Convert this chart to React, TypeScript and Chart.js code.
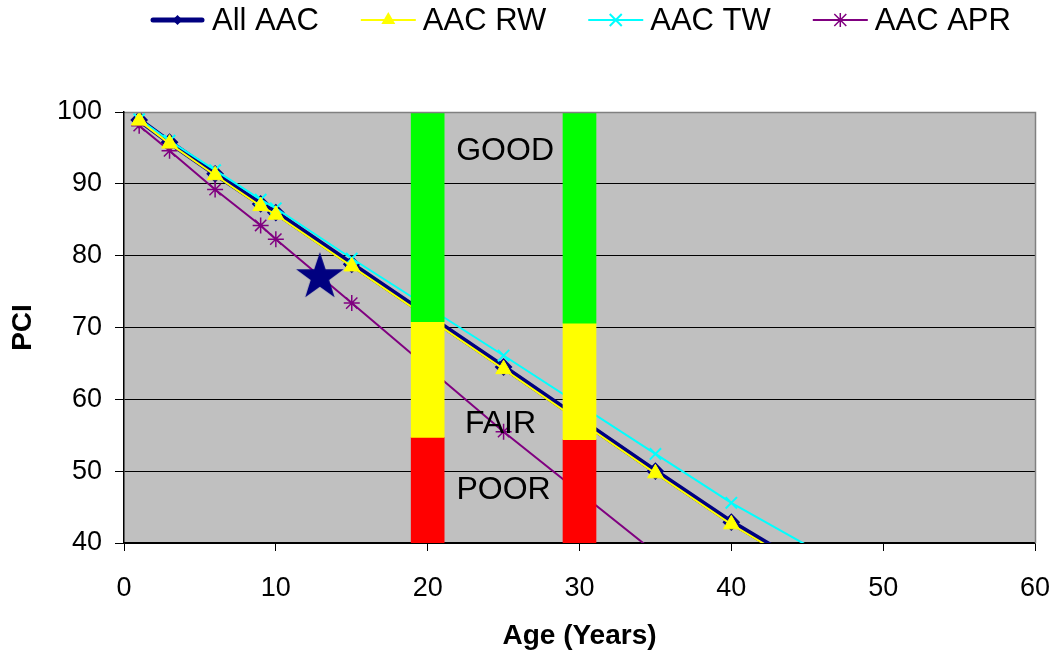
import React, { useEffect, useRef } from 'react';
import { Chart, registerables } from 'chart.js';

Chart.register(...registerables);

// ---- Data ----
const ages = [1, 3, 6, 9, 10, 15, 25, 35, 40, 45];
const allAAC = [98.9, 95.8, 91.4, 87.2, 86.0, 78.8, 64.5, 50.0, 42.9, 36.6];
const aacRW = [98.8, 95.6, 91.2, 86.9, 85.7, 78.5, 64.2, 49.7, 42.6, 36.3];
const twAges = [1, 3, 6, 9, 10, 15, 25, 35, 40, 50];
const aacTW = [99.0, 96.0, 91.9, 87.8, 86.6, 79.6, 66.1, 52.4, 45.6, 33.7];
const aprAges = [1, 3, 6, 9, 10, 15, 25, 40];
const aacAPR = [98.1, 94.6, 89.2, 84.2, 82.3, 73.4, 55.5, 30.2];
const starAge = [12.9];
const starPCI = [77.3];
const bandAges = [20, 30];
const goodBand = [[70.8, 100], [70.6, 100]];
const fairBand = [[54.7, 70.8], [54.4, 70.6]];
const poorBand = [[40, 54.7], [40, 54.4]];
const bandLabels = ['GOOD', 'FAIR', 'POOR'];
const bandLabelAge = [25.1, 24.8, 25.0];
const bandLabelPCI = [94.5, 56.5, 47.4];
const seriesNames = ['All AAC', 'AAC RW', 'AAC TW', 'AAC APR'];
const xMin = 0, xMax = 60, xStep = 10;
const yMin = 40, yMax = 100, yStep = 10;
const xTitle = 'Age (Years)';
const yTitle = 'PCI';

const FONT = '"Liberation Sans", Arial, Helvetica, sans-serif';
const NAVY = '#000080';
const YELLOW = '#FFFF00';
const CYAN = '#00FFFF';
const PURPLE = '#800080';

function makeStar(size: number, color: string) {
  const c = document.createElement('canvas');
  c.width = size; c.height = size;
  const g = c.getContext('2d')!;
  const cx = size / 2, cy = size / 2 + size * 0.04;
  const R = size / 2 - 1, r = R * 0.39;
  g.beginPath();
  for (let i = 0; i < 10; i++) {
    const rad = i % 2 === 0 ? R : r;
    const a = -Math.PI / 2 + (i * Math.PI) / 5;
    const px = cx + rad * Math.cos(a), py = cy + rad * Math.sin(a);
    if (i === 0) g.moveTo(px, py); else g.lineTo(px, py);
  }
  g.closePath();
  g.fillStyle = color;
  g.fill();
  return c;
}

function drawMarker(ctx: CanvasRenderingContext2D, kind: string, x: number, y: number, color: string) {
  ctx.save();
  ctx.fillStyle = color;
  ctx.strokeStyle = color;
  if (kind === 'diamond') {
    const s = 5;
    ctx.beginPath();
    ctx.moveTo(x, y - s); ctx.lineTo(x + s, y); ctx.lineTo(x, y + s); ctx.lineTo(x - s, y);
    ctx.closePath(); ctx.fill();
  } else if (kind === 'triangle') {
    const s = 8;
    ctx.beginPath();
    ctx.moveTo(x, y - s); ctx.lineTo(x + s * 0.87, y + s * 0.5); ctx.lineTo(x - s * 0.87, y + s * 0.5);
    ctx.closePath(); ctx.fill();
  } else if (kind === 'x') {
    const s = 6; ctx.lineWidth = 2;
    ctx.beginPath();
    ctx.moveTo(x - s, y - s); ctx.lineTo(x + s, y + s);
    ctx.moveTo(x + s, y - s); ctx.lineTo(x - s, y + s);
    ctx.stroke();
  } else if (kind === 'asterisk') {
    const s = 6; ctx.lineWidth = 1.5;
    ctx.beginPath();
    ctx.moveTo(x - s, y - s); ctx.lineTo(x + s, y + s);
    ctx.moveTo(x + s, y - s); ctx.lineTo(x - s, y + s);
    ctx.moveTo(x, y - s - 1); ctx.lineTo(x, y + s + 1);
    ctx.stroke();
  }
  ctx.restore();
}

const legendStyle = [
  { color: NAVY, width: 5, marker: 'diamond' },
  { color: YELLOW, width: 2, marker: 'triangle' },
  { color: CYAN, width: 2, marker: 'x' },
  { color: PURPLE, width: 2, marker: 'asterisk' },
];

const decorPlugin = {
  id: 'decor',
  beforeDraw(chart: any) {
    const { ctx, chartArea } = chart;
    const { left, top, right, bottom } = chartArea;
    ctx.save();
    ctx.fillStyle = '#C0C0C0';
    ctx.fillRect(left, top, right - left, bottom - top);
    ctx.restore();
  },
  afterDatasetsDraw(chart: any) {
    const { ctx, scales } = chart;
    ctx.save();
    ctx.font = `32px ${FONT}`;
    ctx.fillStyle = '#000';
    ctx.textAlign = 'center';
    ctx.textBaseline = 'middle';
    bandLabels.forEach((t, i) => {
      ctx.fillText(t, scales.x.getPixelForValue(bandLabelAge[i]), scales.y.getPixelForValue(bandLabelPCI[i]));
    });
    ctx.restore();
  },
  afterDraw(chart: any) {
    const { ctx, chartArea } = chart;
    const { left, top, right, bottom } = chartArea;
    ctx.save();
    ctx.strokeStyle = '#808080';
    ctx.lineWidth = 1.5;
    ctx.beginPath();
    ctx.moveTo(left + 1, Math.round(top) + 0.5);
    ctx.lineTo(Math.round(right) + 0.5, Math.round(top) + 0.5);
    ctx.lineTo(Math.round(right) + 0.5, bottom);
    ctx.stroke();
    // legend
    ctx.font = `31px ${FONT}`;
    ctx.textAlign = 'left';
    ctx.textBaseline = 'middle';
    const ly = 20;
    let x = 150;
    seriesNames.forEach((name, i) => {
      const st = legendStyle[i];
      ctx.strokeStyle = st.color;
      ctx.lineWidth = st.width;
      ctx.lineCap = i === 0 ? 'round' : 'butt';
      ctx.beginPath();
      ctx.moveTo(x + (i === 0 ? 3 : 0), ly);
      ctx.lineTo(x + 55 - (i === 0 ? 3 : 0), ly);
      ctx.stroke();
      drawMarker(ctx, st.marker, x + 27.5, ly, st.color);
      ctx.fillStyle = '#000';
      ctx.fillText(name, x + 62, ly + 1);
      x += 62 + ctx.measureText(name).width + 42;
    });
    ctx.restore();
  },
};

export default function App() {
  const ref = useRef<HTMLCanvasElement | null>(null);

  useEffect(() => {
    const canvas = ref.current;
    if (!canvas) return;
    Chart.defaults.font.family = FONT;
    const star = makeStar(52, NAVY);

    const toXY = (xs: number[], ys: number[]) => xs.map((v, i) => ({ x: v, y: ys[i] }));
    const toBand = (band: number[][]) => bandAges.map((v, i) => ({ x: v, y: band[i] }));

    const barCommon = {
      type: 'bar' as const,
      barThickness: 33,
      grouped: false,
      borderWidth: 0,
      order: 0,
    };

    const chart = new Chart(canvas, {
      type: 'line',
      data: {
        datasets: [
          {
            label: seriesNames[0],
            data: toXY(ages, allAAC),
            borderColor: NAVY,
            backgroundColor: NAVY,
            borderWidth: 5.5,
            pointStyle: 'rectRot',
            pointRadius: 5,
            pointBackgroundColor: NAVY,
            pointBorderColor: NAVY,
            tension: 0,
            clip: 0,
            order: 3,
          },
          {
            label: seriesNames[1],
            data: toXY(ages, aacRW),
            borderColor: YELLOW,
            backgroundColor: YELLOW,
            borderWidth: 2,
            pointStyle: 'triangle',
            pointRadius: 9,
            pointBackgroundColor: YELLOW,
            pointBorderColor: YELLOW,
            pointBorderWidth: 1,
            tension: 0,
            clip: 0,
            order: 2,
          },
          {
            label: seriesNames[2],
            data: toXY(twAges, aacTW),
            borderColor: CYAN,
            backgroundColor: CYAN,
            borderWidth: 2,
            pointStyle: 'crossRot',
            pointRadius: 8,
            pointBorderColor: CYAN,
            pointBorderWidth: 2,
            tension: 0,
            clip: 0,
            order: 2,
          },
          {
            label: seriesNames[3],
            data: toXY(aprAges, aacAPR),
            borderColor: PURPLE,
            backgroundColor: PURPLE,
            borderWidth: 2,
            pointStyle: 'star',
            pointRadius: 8,
            pointBorderColor: PURPLE,
            pointBorderWidth: 1.5,
            tension: 0,
            clip: 0,
            order: 2,
          },
          {
            label: 'star',
            data: toXY(starAge, starPCI),
            showLine: false,
            pointStyle: star as any,
            pointRadius: 26,
            order: 1,
          } as any,
          { ...barCommon, label: 'good', data: toBand(goodBand), backgroundColor: '#00FF00' } as any,
          { ...barCommon, label: 'fair', data: toBand(fairBand), backgroundColor: '#FFFF00' } as any,
          { ...barCommon, label: 'poor', data: toBand(poorBand), backgroundColor: '#FF0000' } as any,
        ],
      },
      options: {
        animation: false,
        responsive: false,
        maintainAspectRatio: false,
        events: [],
        layout: { autoPadding: false, padding: { left: 0, right: 20, top: 112, bottom: 0 } },
        plugins: {
          legend: { display: false },
          tooltip: { enabled: false },
          title: { display: false },
        },
        scales: {
          x: {
            type: 'linear',
            min: xMin,
            max: xMax,
            offset: false,
            ticks: {
              stepSize: xStep,
              color: '#000',
              font: { size: 27, family: FONT },
              padding: 21,
              maxRotation: 0,
            },
            grid: { drawOnChartArea: false, drawTicks: true, tickLength: 8, color: '#000', offset: false },
            border: { display: true, color: '#000', width: 1.5 },
            title: {
              display: true,
              text: xTitle,
              color: '#000',
              font: { size: 28, weight: 'bold', family: FONT },
              padding: { top: 0, bottom: 2 },
            },
            afterFit: (s: any) => { s.height = 112; s.paddingLeft = 0; s.paddingRight = 0; },
          },
          y: {
            type: 'linear',
            min: yMin,
            max: yMax,
            ticks: {
              stepSize: yStep,
              color: '#000',
              font: { size: 27, family: FONT },
              padding: 13,
            },
            grid: { color: '#000', lineWidth: 1, tickLength: 9, drawTicks: true },
            border: { display: true, color: '#000', width: 1.5 },
            title: {
              display: true,
              text: yTitle,
              color: '#000',
              font: { size: 28, weight: 'bold', family: FONT },
              padding: { top: 6, bottom: 0 },
            },
            afterFit: (s: any) => { s.width = 124; s.paddingTop = 0; s.paddingBottom = 0; },
          },
        },
      },
      plugins: [decorPlugin],
    } as any);

    return () => chart.destroy();
  }, []);

  return (
    <div style={{ position: 'fixed', left: 0, top: 0, width: 1055, height: 655, background: '#fff' }}>
      <canvas ref={ref} width={1055} height={655} style={{ display: 'block', width: 1055, height: 655 }} />
    </div>
  );
}
